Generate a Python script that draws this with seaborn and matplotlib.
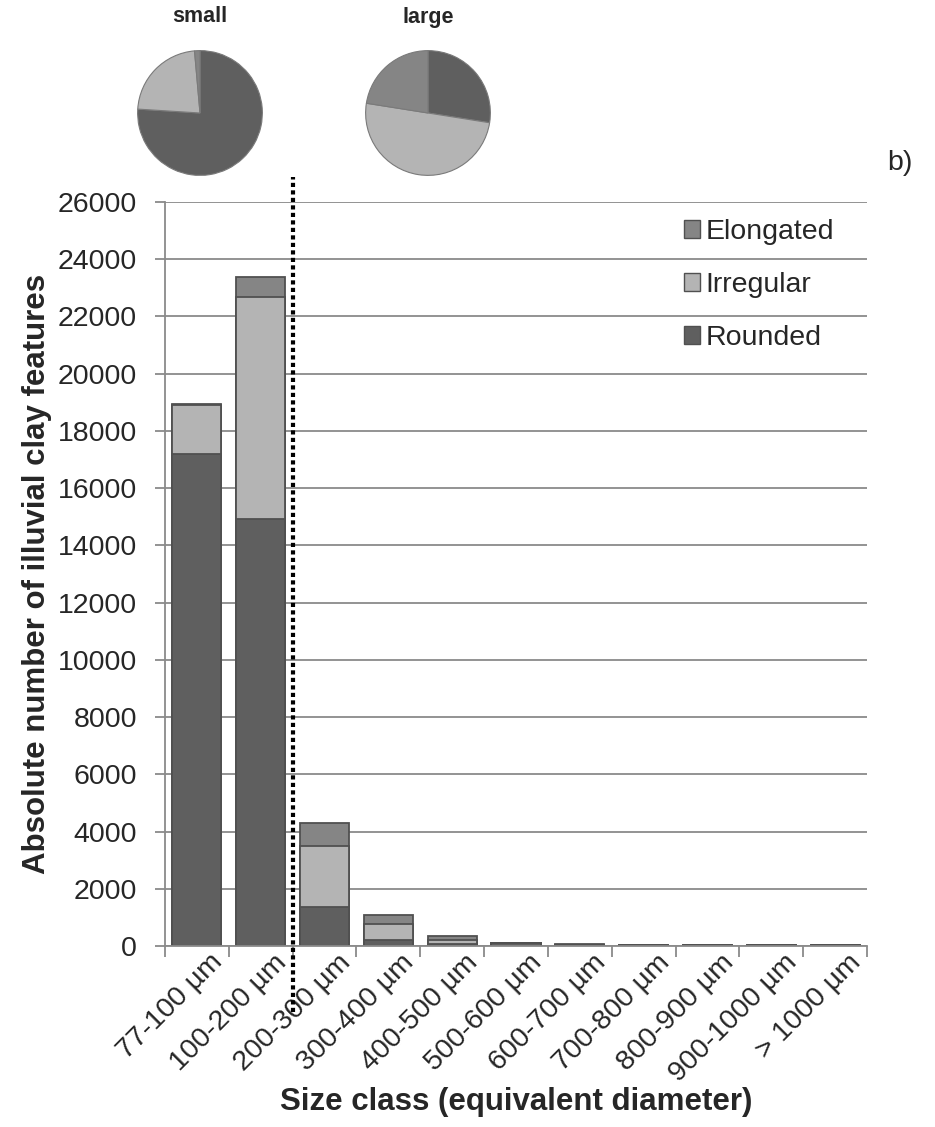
import numpy as np
import pandas as pd
import seaborn as sns
import matplotlib.pyplot as plt
from matplotlib.patches import Patch
from matplotlib.transforms import ScaledTranslation

# data
size_classes = ['77-100 µm', '100-200 µm', '200-300 µm', '300-400 µm', '400-500 µm',
                '500-600 µm', '600-700 µm', '700-800 µm', '800-900 µm', '900-1000 µm',
                '> 1000 µm']
rounded = [17180, 14920, 1360, 210, 60, 90, 20, 15, 15, 15, 15]
irregular = [1720, 7760, 2130, 560, 150, 10, 30, 10, 10, 10, 10]
elongated = [50, 700, 800, 330, 150, 15, 15, 10, 10, 10, 10]

pie_small = [76.0, 22.6, 1.4]   # rounded, irregular, elongated (%)
pie_large = [27.5, 50.0, 22.5]

c_round, c_irr, c_elong = '#5f5f5f', '#b4b4b4', '#858585'
edge = '#505050'
grid_c = '#8a8a8a'

sns.set_style('white')
plt.rcParams['font.family'] = ['Liberation Sans', 'DejaVu Sans']

df = pd.DataFrame({'size': size_classes, 'rounded': rounded,
                   'irregular': irregular, 'elongated': elongated})
df['r_i'] = df['rounded'] + df['irregular']
df['total'] = df['r_i'] + df['elongated']

W, H = 935, 1127
fig = plt.figure(figsize=(W / 100, H / 100), dpi=100)
ax = fig.add_axes([165 / W, 1 - 946 / H, (867 - 165) / W, (946 - 202) / H])

bw = 0.77
sns.barplot(ax=ax, data=df, x='size', y='total', color=c_elong, width=bw,
            edgecolor=edge, linewidth=1.3, saturation=1)
sns.barplot(ax=ax, data=df, x='size', y='r_i', color=c_irr, width=bw,
            edgecolor=edge, linewidth=1.3, saturation=1)
sns.barplot(ax=ax, data=df, x='size', y='rounded', color=c_round, width=bw,
            edgecolor=edge, linewidth=1.3, saturation=1)

ax.set_ylim(0, 26000)
ax.set_xlim(-0.5, len(size_classes) - 0.5)
ax.set_yticks(np.arange(0, 26001, 2000))
ax.yaxis.grid(True, color=grid_c, lw=1.3)
ax.set_axisbelow(True)
for s in ['top', 'right']:
    ax.spines[s].set_visible(False)
for s in ['left', 'bottom']:
    ax.spines[s].set_color(grid_c)
    ax.spines[s].set_linewidth(1.3)

ax.tick_params(axis='y', which='major', left=True, length=7, width=1.3,
               color=grid_c, labelsize=20.5, pad=13)
ax.set_xticks(np.arange(len(size_classes)))
ax.set_xticklabels(size_classes, rotation=45, ha='right', va='center',
                   rotation_mode='anchor')
ax.tick_params(axis='x', which='major', length=0, labelsize=20.5, pad=9)
shift = ScaledTranslation(22 / 100, 0, fig.dpi_scale_trans)
for lab in ax.get_xticklabels():
    lab.set_transform(lab.get_transform() + shift)
ax.set_xticks(np.arange(-0.5, len(size_classes)), minor=True)
ax.tick_params(axis='x', which='minor', bottom=True, length=8, width=1.3,
               color=grid_c)

ax.set_xlabel('Size class (equivalent diameter)', fontsize=22.5, fontweight='bold',
              labelpad=0)
ax.set_ylabel('Absolute number of illuvial clay features', fontsize=22.5,
              fontweight='bold', labelpad=4)

# dotted divider between small and large classes
ax.plot([1.5, 1.5], [-2300, 26870], color='black', lw=3, ls=(0, (1, 0.8)),
        clip_on=False, zorder=5)

handles = [Patch(facecolor=c_elong, edgecolor=edge, label='Elongated'),
           Patch(facecolor=c_irr, edgecolor=edge, label='Irregular'),
           Patch(facecolor=c_round, edgecolor=edge, label='Rounded')]
fig.legend(handles=handles, loc='upper left', bbox_to_anchor=(684 / W, 1 - 219 / H),
           frameon=False, fontsize=20.5, handlelength=0.55, handleheight=0.55,
           handletextpad=0.2, labelspacing=0.95, borderpad=0, borderaxespad=0)

# pies
for cx, vals, name in [(200, pie_small, 'small'), (428, pie_large, 'large')]:
    r = 63
    pax = fig.add_axes([(cx - r) / W, 1 - (113 + r) / H, 2 * r / W, 2 * r / H])
    pax.pie(vals, colors=[c_round, c_irr, c_elong], startangle=90,
            counterclock=False, wedgeprops=dict(edgecolor='#7a7a7a', linewidth=0.8))
    pax.set_xlim(-1.01, 1.01)
    pax.set_ylim(-1.01, 1.01)
    pax.set_aspect('equal')
    fig.text(cx / W, 1 - 17 / H, name, ha='center', va='center',
             fontsize=15.5, fontweight='bold')

fig.text(887 / W, 1 - 163 / H, 'b)', ha='left', va='center', fontsize=20.5)

fig.savefig('out.png', dpi=100)
